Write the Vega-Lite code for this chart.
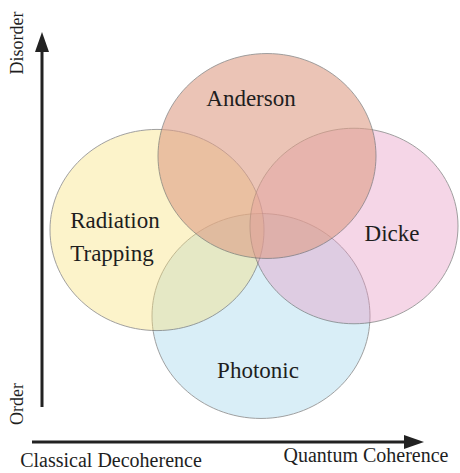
{
  "$schema": "https://vega.github.io/schema/vega-lite/v6.json",
  "width": 460,
  "height": 473,
  "padding": 0,
  "autosize": {"type": "fit", "contains": "padding"},
  "background": "white",
  "config": {"view": {"stroke": null}},
  "datasets": {
    "circles": [
      {"name": "Photonic", "cx": 261, "cy": 316, "r": 109},
      {"name": "Radiation Trapping", "cx": 157, "cy": 230, "r": 107},
      {"name": "Dicke", "cx": 354, "cy": 226, "r": 104},
      {"name": "Anderson", "cx": 267, "cy": 156, "r": 109}
    ],
    "labels": [
      {"text": "Anderson", "lx": 251, "ly": 99},
      {"text": "Radiation", "lx": 115, "ly": 221},
      {"text": "Trapping", "lx": 112, "ly": 254},
      {"text": "Dicke", "lx": 392, "ly": 234},
      {"text": "Photonic", "lx": 258, "ly": 371}
    ],
    "axes": [
      {"text": "Disorder", "lx": 18, "ly": 43, "angle": 270},
      {"text": "Order", "lx": 18, "ly": 404, "angle": 270},
      {"text": "Classical Decoherence", "lx": 111, "ly": 461, "angle": 0},
      {"text": "Quantum Coherence", "lx": 366, "ly": 456, "angle": 0}
    ],
    "arrows": [
      {"dir": "up", "x1": 42, "y1": 407, "x2": 42, "y2": 48, "hx": 42, "hy": 42},
      {"dir": "right", "x1": 32, "y1": 442, "x2": 410, "y2": 442, "hx": 414, "hy": 442}
    ]
  },
  "layer": [
    {
      "data": {"name": "circles"},
      "mark": {
        "type": "point",
        "shape": "M-1,0A1,0.94 0 1,1 1,0A1,0.94 0 1,1 -1,0Z",
        "filled": true,
        "stroke": "#6a6a6a",
        "strokeWidth": 0.9,
        "strokeOpacity": 1
      },
      "encoding": {
        "x": {"field": "cx", "type": "quantitative", "scale": {"domain": [0, 460], "nice": false, "zero": false}, "axis": null},
        "y": {"field": "cy", "type": "quantitative", "scale": {"domain": [0, 473], "nice": false, "zero": false, "reverse": true}, "axis": null},
        "size": {"field": "r", "type": "quantitative", "scale": {"type": "pow", "exponent": 2, "domain": [0, 100], "range": [0, 40000]}, "legend": null},
        "color": {"field": "name", "type": "nominal", "scale": {"domain": ["Photonic", "Radiation Trapping", "Dicke", "Anderson"], "range": ["#CAE8F5", "#FAE078", "#E897C3", "#DE9D86"]}, "legend": null},
        "fillOpacity": {"field": "name", "type": "nominal", "scale": {"type": "ordinal", "domain": ["Photonic", "Radiation Trapping", "Dicke", "Anderson"], "range": [1, 0.55, 0.55, 0.85]}, "legend": null}
      }
    },
    {
      "data": {"name": "arrows"},
      "mark": {"type": "rule", "color": "#222222", "strokeWidth": 3},
      "encoding": {
        "x": {"field": "x1", "type": "quantitative", "scale": {"domain": [0, 460], "nice": false, "zero": false}, "axis": null},
        "x2": {"field": "x2"},
        "y": {"field": "y1", "type": "quantitative", "scale": {"domain": [0, 473], "nice": false, "zero": false, "reverse": true}, "axis": null},
        "y2": {"field": "y2"}
      }
    },
    {
      "data": {"name": "arrows"},
      "transform": [{"filter": "datum.dir == 'up'"}],
      "mark": {"type": "point", "shape": "M0,-1L0.7,1L-0.7,1Z", "filled": true, "color": "#222222", "opacity": 1, "size": 400},
      "encoding": {
        "x": {"field": "hx", "type": "quantitative", "scale": {"domain": [0, 460], "nice": false, "zero": false}, "axis": null},
        "y": {"field": "hy", "type": "quantitative", "scale": {"domain": [0, 473], "nice": false, "zero": false, "reverse": true}, "axis": null}
      }
    },
    {
      "data": {"name": "arrows"},
      "transform": [{"filter": "datum.dir == 'right'"}],
      "mark": {"type": "point", "shape": "M1,0L-1,0.7L-1,-0.7Z", "filled": true, "color": "#222222", "opacity": 1, "size": 400},
      "encoding": {
        "x": {"field": "hx", "type": "quantitative", "scale": {"domain": [0, 460], "nice": false, "zero": false}, "axis": null},
        "y": {"field": "hy", "type": "quantitative", "scale": {"domain": [0, 473], "nice": false, "zero": false, "reverse": true}, "axis": null}
      }
    },
    {
      "data": {"name": "labels"},
      "mark": {"type": "text", "font": "'Liberation Serif', 'DejaVu Serif', serif", "fontSize": 23, "color": "#1e1e1e", "baseline": "middle", "align": "center"},
      "encoding": {
        "x": {"field": "lx", "type": "quantitative", "scale": {"domain": [0, 460], "nice": false, "zero": false}, "axis": null},
        "y": {"field": "ly", "type": "quantitative", "scale": {"domain": [0, 473], "nice": false, "zero": false, "reverse": true}, "axis": null},
        "text": {"field": "text"}
      }
    },
    {
      "data": {"name": "axes"},
      "transform": [{"filter": "datum.angle == 270"}],
      "mark": {"type": "text", "font": "'Liberation Serif', 'DejaVu Serif', serif", "fontSize": 18, "color": "#1e1e1e", "baseline": "middle", "align": "center", "angle": 270},
      "encoding": {
        "x": {"field": "lx", "type": "quantitative", "scale": {"domain": [0, 460], "nice": false, "zero": false}, "axis": null},
        "y": {"field": "ly", "type": "quantitative", "scale": {"domain": [0, 473], "nice": false, "zero": false, "reverse": true}, "axis": null},
        "text": {"field": "text"}
      }
    },
    {
      "data": {"name": "axes"},
      "transform": [{"filter": "datum.angle == 0"}],
      "mark": {"type": "text", "font": "'Liberation Serif', 'DejaVu Serif', serif", "fontSize": 20, "color": "#1e1e1e", "baseline": "middle", "align": "center"},
      "encoding": {
        "x": {"field": "lx", "type": "quantitative", "scale": {"domain": [0, 460], "nice": false, "zero": false}, "axis": null},
        "y": {"field": "ly", "type": "quantitative", "scale": {"domain": [0, 473], "nice": false, "zero": false, "reverse": true}, "axis": null},
        "text": {"field": "text"}
      }
    }
  ]
}
